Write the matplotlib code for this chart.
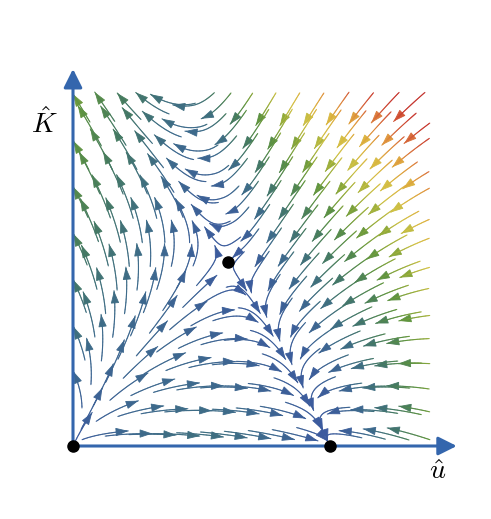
import numpy as np
import matplotlib.pyplot as plt
from matplotlib.colors import LinearSegmentedColormap, Normalize
from matplotlib.collections import LineCollection
from matplotlib.patches import FancyArrowPatch

# fixed points (u-hat, K-hat)
fixed_u = [0.0, 0.72, 0.434]
fixed_k = [0.0, 0.0, 0.52]

# flow model parameters, tuned so the streamlines look like the reference
c_node = fixed_u[1]
u_sad, k_sad = fixed_u[2], fixed_k[2]
s_rate = 1.238       # u logistic rate
d0 = 0.2             # K drag on u at u = 0
d2 = 0.3             # extra drag near the top
e_slope = 0.36       # lean of the K nullcline
w_pos, k_neg = 0.4, 1.3
alpha, beta = 0.5, 0.3
m_push = 0.446

# speed colours (slow -> fast)
color_pos = [0.0, 0.12, 0.25, 0.37, 0.47, 0.57, 0.65, 0.73, 0.8, 0.88, 1.0]
speed_colors = ['#3c5a9f', '#3d6a8c', '#457a62', '#5f9440', '#94ac3a',
                '#d2c246', '#dcb440', '#e0923e', '#d5603a', '#c8372e', '#c23530']

# put both nullclines through the saddle
d1 = (s_rate * u_sad * (c_node - u_sad) - d2 * u_sad * (1 - u_sad) * k_sad**4
      - k_sad * d0) / (k_sad * u_sad)
phi_sad = m_push * u_sad**2 * (u_sad - c_node) / (k_sad * (alpha + beta * k_sad))
x_sad = phi_sad / k_neg
h0 = u_sad - x_sad + e_slope * k_sad


def field(u, k):
    du = s_rate * u * (c_node - u) - k * (d0 + d1 * u) - d2 * u * (1 - u) * k**4
    x = u - (h0 - e_slope * k)
    phi = np.where(x > 0, np.tanh(x / w_pos), k_neg * x)
    dk = -k * (alpha + beta * k) * phi + m_push * u**2 * (u - c_node)
    return du, dk


def trace(u0, k0, length, sign, ds=0.004):
    pts = [(u0, k0)]
    u, k = u0, k0
    done = 0.0
    while done < length:
        du, dk = field(u, k)
        n = np.hypot(du, dk)
        if n < 1e-4:
            break
        um, km = u + 0.5 * ds * sign * du / n, k + 0.5 * ds * sign * dk / n
        du, dk = field(um, km)
        n = np.hypot(du, dk)
        if n < 1e-4:
            break
        u, k = u + ds * sign * du / n, k + ds * sign * dk / n
        if not (0 <= u <= 1 and 0 <= k <= 1):
            break
        if min(np.hypot(u - fu, k - fk) for fu, fk in zip(fixed_u, fixed_k)) < 0.012:
            break
        pts.append((u, k))
        done += ds
    return np.array(pts)


uu = np.linspace(0, 1, 200)
U, K = np.meshgrid(uu, uu)
DU, DK = field(U, K)
speed_grid = np.hypot(DU, DK)
norm = Normalize(0, speed_grid.max())
cmap = LinearSegmentedColormap.from_list('flow', list(zip(color_pos, speed_colors)))

fig = plt.figure(figsize=(4.91, 5.19), dpi=100)
ax = fig.add_axes([0, 0, 1, 1])
ax.set_xlim(-73 / 357, (491 - 73) / 357)
ax.set_ylim(-(519 - 446) / 354, 446 / 354)
ax.axis('off')

# staggered seed grid, one short streamline with an end arrow per seed
n_seed = 15
segs, seg_speed, heads = [], [], []
for j in range(n_seed):
    for i in range(n_seed):
        su = (i + 0.5 + 0.5 * (j % 2) - 0.25) / n_seed
        sk = (j + 0.5) / n_seed
        back = trace(su, sk, 0.06, -1)
        fwd = trace(su, sk, 0.07, 1)
        path = np.vstack([back[::-1], fwd[1:]])
        if len(path) < 5:
            continue
        du, dk = field(path[:, 0], path[:, 1])
        sp = np.hypot(du, dk)
        segs.extend(np.stack([path[:-1], path[1:]], axis=1))
        seg_speed.extend(0.5 * (sp[:-1] + sp[1:]))
        heads.append((path[-4], path[-1], sp[-1]))

lc = LineCollection(segs, cmap=cmap, norm=norm, linewidths=0.8, capstyle='round')
lc.set_array(np.array(seg_speed))
ax.add_collection(lc)

for tail, tip, sp in heads:
    ax.add_patch(FancyArrowPatch(tail, tip, arrowstyle='-|>,head_length=0.6,head_width=0.2',
                                 mutation_scale=13, color=cmap(norm(sp)), lw=0.6,
                                 shrinkA=0, shrinkB=0))

axis_col = '#3466ad'
ax.annotate('', xy=(1.075, 0), xytext=(0, 0),
            arrowprops=dict(arrowstyle='-|>', color=axis_col, lw=2.2,
                            mutation_scale=28, shrinkA=0, shrinkB=0))
ax.annotate('', xy=(0, 1.065), xytext=(0, 0),
            arrowprops=dict(arrowstyle='-|>', color=axis_col, lw=2.2,
                            mutation_scale=28, shrinkA=0, shrinkB=0))

ax.plot(fixed_u, fixed_k, 'o', color='black', ms=8, zorder=5, clip_on=False)

plt.rcParams['mathtext.fontset'] = 'cm'
ax.text(-0.08, 0.91, r'$\hat{K}$', fontsize=20, ha='center', va='center')
ax.text(1.02, -0.07, r'$\hat{u}$', fontsize=20, ha='center', va='center')

fig.savefig('out.png', dpi=100)
